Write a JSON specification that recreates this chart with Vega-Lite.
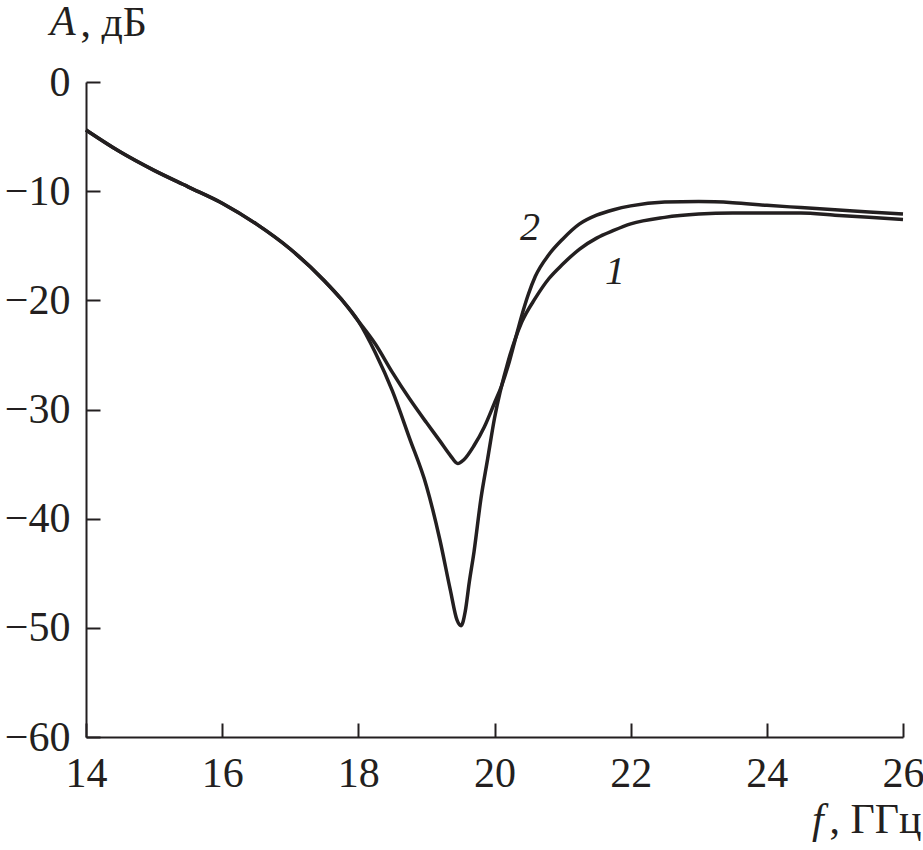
{
  "$schema": "https://vega.github.io/schema/vega-lite/v6.json",
  "autosize": "none",
  "width": 817,
  "height": 655,
  "padding": {"left": 86, "top": 82, "right": 20, "bottom": 113},
  "background": "white",
  "config": {
    "view": {"stroke": null},
    "font": "Liberation Serif",
    "axis": {
      "domainColor": "#231f20",
      "domainWidth": 2,
      "tickColor": "#231f20",
      "tickWidth": 2,
      "tickSize": -14,
      "grid": false,
      "labelFlush": false,
      "labelFont": "Liberation Serif",
      "labelFontSize": 42,
      "labelColor": "#231f20",
      "titleFont": "Liberation Serif",
      "titleFontSize": 42,
      "titleFontWeight": "normal",
      "titleColor": "#231f20"
    }
  },
  "datasets": {
    "curves": [
      {"f": 14.0, "A": -4.4, "curve": "1"},
      {"f": 14.5, "A": -6.4, "curve": "1"},
      {"f": 15.0, "A": -8.1, "curve": "1"},
      {"f": 15.5, "A": -9.6, "curve": "1"},
      {"f": 16.0, "A": -11.1, "curve": "1"},
      {"f": 16.5, "A": -13.0, "curve": "1"},
      {"f": 17.0, "A": -15.3, "curve": "1"},
      {"f": 17.5, "A": -18.2, "curve": "1"},
      {"f": 17.75, "A": -19.9, "curve": "1"},
      {"f": 18.0, "A": -21.9, "curve": "1"},
      {"f": 18.25, "A": -24.8, "curve": "1"},
      {"f": 18.5, "A": -28.3, "curve": "1"},
      {"f": 18.75, "A": -32.6, "curve": "1"},
      {"f": 19.0, "A": -37.0, "curve": "1"},
      {"f": 19.2, "A": -42.0, "curve": "1"},
      {"f": 19.35, "A": -46.5, "curve": "1"},
      {"f": 19.45, "A": -49.3, "curve": "1"},
      {"f": 19.51, "A": -49.8, "curve": "1"},
      {"f": 19.57, "A": -48.5, "curve": "1"},
      {"f": 19.63, "A": -45.8, "curve": "1"},
      {"f": 19.7, "A": -43.0, "curve": "1"},
      {"f": 19.8, "A": -38.2, "curve": "1"},
      {"f": 19.9, "A": -34.5, "curve": "1"},
      {"f": 20.0, "A": -30.8, "curve": "1"},
      {"f": 20.2, "A": -25.6, "curve": "1"},
      {"f": 20.4, "A": -22.0, "curve": "1"},
      {"f": 20.6, "A": -19.8, "curve": "1"},
      {"f": 20.8, "A": -18.0, "curve": "1"},
      {"f": 21.0, "A": -16.7, "curve": "1"},
      {"f": 21.25, "A": -15.3, "curve": "1"},
      {"f": 21.5, "A": -14.3, "curve": "1"},
      {"f": 21.75, "A": -13.6, "curve": "1"},
      {"f": 22.0, "A": -13.0, "curve": "1"},
      {"f": 22.5, "A": -12.4, "curve": "1"},
      {"f": 23.0, "A": -12.1, "curve": "1"},
      {"f": 23.5, "A": -12.0, "curve": "1"},
      {"f": 24.0, "A": -12.0, "curve": "1"},
      {"f": 24.5, "A": -12.0, "curve": "1"},
      {"f": 25.0, "A": -12.2, "curve": "1"},
      {"f": 25.5, "A": -12.4, "curve": "1"},
      {"f": 26.0, "A": -12.6, "curve": "1"},
      {"f": 14.0, "A": -4.4, "curve": "2"},
      {"f": 14.5, "A": -6.4, "curve": "2"},
      {"f": 15.0, "A": -8.1, "curve": "2"},
      {"f": 15.5, "A": -9.6, "curve": "2"},
      {"f": 16.0, "A": -11.1, "curve": "2"},
      {"f": 16.5, "A": -13.0, "curve": "2"},
      {"f": 17.0, "A": -15.3, "curve": "2"},
      {"f": 17.5, "A": -18.2, "curve": "2"},
      {"f": 17.75, "A": -19.9, "curve": "2"},
      {"f": 18.0, "A": -21.9, "curve": "2"},
      {"f": 18.25, "A": -24.0, "curve": "2"},
      {"f": 18.5, "A": -26.6, "curve": "2"},
      {"f": 18.75, "A": -29.0, "curve": "2"},
      {"f": 19.0, "A": -31.2, "curve": "2"},
      {"f": 19.2, "A": -32.9, "curve": "2"},
      {"f": 19.35, "A": -34.2, "curve": "2"},
      {"f": 19.46, "A": -34.95, "curve": "2"},
      {"f": 19.55, "A": -34.6, "curve": "2"},
      {"f": 19.7, "A": -33.3, "curve": "2"},
      {"f": 19.85, "A": -31.6, "curve": "2"},
      {"f": 20.0, "A": -29.4, "curve": "2"},
      {"f": 20.1, "A": -27.9, "curve": "2"},
      {"f": 20.2, "A": -26.0, "curve": "2"},
      {"f": 20.3, "A": -23.7, "curve": "2"},
      {"f": 20.4, "A": -21.4, "curve": "2"},
      {"f": 20.5, "A": -19.4, "curve": "2"},
      {"f": 20.6, "A": -17.8, "curve": "2"},
      {"f": 20.8, "A": -15.8, "curve": "2"},
      {"f": 21.0, "A": -14.4, "curve": "2"},
      {"f": 21.25, "A": -13.0, "curve": "2"},
      {"f": 21.5, "A": -12.2, "curve": "2"},
      {"f": 21.75, "A": -11.7, "curve": "2"},
      {"f": 22.0, "A": -11.35, "curve": "2"},
      {"f": 22.5, "A": -11.0, "curve": "2"},
      {"f": 23.0, "A": -10.95, "curve": "2"},
      {"f": 23.5, "A": -11.05, "curve": "2"},
      {"f": 24.0, "A": -11.3, "curve": "2"},
      {"f": 24.5, "A": -11.5, "curve": "2"},
      {"f": 25.0, "A": -11.7, "curve": "2"},
      {"f": 25.5, "A": -11.9, "curve": "2"},
      {"f": 26.0, "A": -12.1, "curve": "2"}
    ],
    "labels": [
      {"f": 20.52, "A": -13.4, "t": "2", "align": "center"},
      {"f": 21.77, "A": -17.4, "t": "1", "align": "center"}
    ],
    "titles": [
      {"f": 13.471, "A": 4.26, "t": "A"},
      {"f": 24.664, "A": -68.75, "t": "f"}
    ]
  },
  "layer": [
    {
      "data": {"name": "curves"},
      "mark": {"type": "line", "interpolate": "monotone", "color": "#231f20", "strokeWidth": 3.5},
      "encoding": {
        "x": {
          "field": "f", "type": "quantitative",
          "scale": {"domain": [14, 26], "nice": false},
          "axis": {
            "values": [14, 16, 18, 20, 22, 24, 26],
            "format": "d",
            "labelPadding": 30,
            "title": ", ГГц",
            "titleAngle": 0,
            "titleAlign": "right",
            "titleBaseline": "alphabetic",
            "titleX": 835,
            "titleY": 95
          }
        },
        "y": {
          "field": "A", "type": "quantitative",
          "scale": {"domain": [-60, 0], "nice": false},
          "axis": {
            "values": [0, -10, -20, -30, -40, -50, -60],
            "format": "d",
            "labelPadding": 30,
            "title": ", дБ",
            "titleAngle": 0,
            "titleAlign": "left",
            "titleBaseline": "alphabetic",
            "titleX": -6,
            "titleY": -47
          }
        },
        "detail": {"field": "curve", "type": "nominal"}
      }
    },
    {
      "data": {"name": "labels"},
      "mark": {"type": "text", "font": "Liberation Serif", "fontStyle": "italic", "fontSize": 40, "color": "#231f20"},
      "encoding": {
        "x": {"field": "f", "type": "quantitative"},
        "y": {"field": "A", "type": "quantitative"},
        "text": {"field": "t", "type": "nominal"}
      }
    },
    {
      "data": {"name": "titles"},
      "mark": {"type": "text", "font": "Liberation Serif", "fontStyle": "italic", "fontSize": 42, "align": "left", "baseline": "alphabetic", "color": "#231f20"},
      "encoding": {
        "x": {"field": "f", "type": "quantitative"},
        "y": {"field": "A", "type": "quantitative"},
        "text": {"field": "t", "type": "nominal"}
      }
    }
  ]
}
